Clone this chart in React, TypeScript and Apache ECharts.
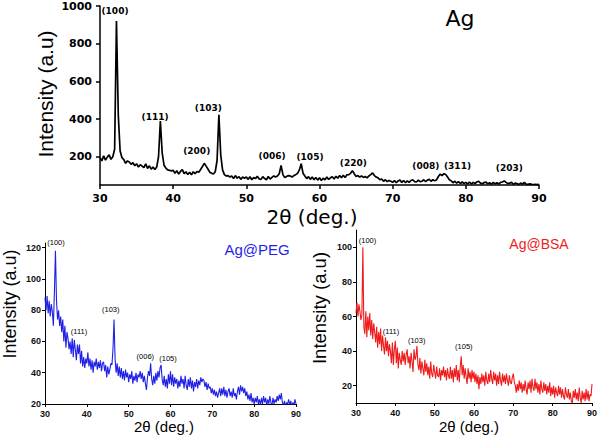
import React, { useEffect, useRef } from "react";
import * as echarts from "echarts";

// Sampling grid of the diffractograms (2θ, degrees)
const TWO_THETA_START = 30;
const TWO_THETA_STEP = 0.25;

// Ag (top panel) intensity, one value per 0.25° from 30° to 90°
const agIntensity = [
  195, 178, 205, 182, 198, 210, 186, 200,
  240, 920, 420, 230, 195, 185, 165, 178,
  172, 160, 168, 152, 163, 145, 158, 150,
  142, 162, 138, 152, 134, 146, 132, 145,
  200, 390, 220, 155, 140, 130, 128, 125,
  128, 112, 126, 108, 122, 132, 110, 120,
  106, 118, 104, 120, 110, 122, 118, 132,
  148, 165, 150, 135, 118, 112, 108, 120,
  180, 423, 210, 130, 105, 98, 100, 92,
  98, 84, 100, 86, 94, 80, 92, 86,
  92, 80, 94, 78, 90, 84, 96, 82,
  80, 94, 84, 78, 95, 82, 90, 98,
  92, 98, 110, 154, 105, 90, 95, 100,
  98, 92, 100, 105, 112, 130, 163, 112,
  98, 84, 94, 80, 92, 78, 90, 76,
  88, 74, 86, 78, 92, 80, 88, 94,
  82, 96, 86, 100, 88, 102, 90, 104,
  105, 112, 126, 110, 95, 100, 92, 98,
  90, 95, 88, 98, 105, 114, 100, 92,
  88, 78, 82, 70, 78, 68, 74, 70,
  64, 74, 62, 72, 76, 64, 74, 62,
  72, 64, 74, 78, 68, 66, 76, 68,
  70, 78, 68, 76, 80, 70, 78, 72,
  78, 95, 108, 100, 110, 106, 92, 78,
  72, 62, 70, 60, 68, 58, 66, 58,
  64, 56, 66, 55, 64, 58, 66, 70,
  60, 56, 63, 65, 56, 62, 54, 64,
  56, 62, 55, 64, 66, 72, 64, 58,
  60, 64, 54, 60, 58, 53, 60, 55,
  64, 55, 53, 56, 53, 52, 54, 52,
  53,
];

// Ag@PEG (bottom-left panel)
const pegIntensity = [
  88, 80, 89, 78, 86, 76, 84, 79,
  70, 92, 118, 86, 74, 80, 70, 76,
  66, 74, 60, 70, 56, 66, 62, 55,
  60, 52, 62, 50, 61, 55, 48, 58,
  52, 58, 46, 54, 44, 50, 43, 49,
  46, 53, 44, 49, 42, 48, 40, 47,
  44, 49, 42, 47, 43, 48, 41, 46,
  47, 41, 45, 37, 44, 39, 42, 46,
  45, 55, 74, 49, 40, 46, 38, 44,
  37, 43, 36, 41, 35, 42, 37, 40,
  34, 39, 36, 41, 33, 38, 35, 40,
  34, 39, 37, 41, 36, 40, 34, 38,
  33, 29, 37, 41, 38, 46, 36, 32,
  38, 33, 40, 35, 41, 37, 43, 45,
  36, 32, 38, 31, 36, 30, 39, 33,
  41, 32, 39, 31, 37, 33, 36, 30,
  35, 31, 38, 33, 36, 30, 38, 32,
  29, 36, 31, 37, 30, 35, 28, 34,
  31, 36, 30, 35, 32, 37, 34, 36,
  35, 31, 34, 29, 33, 30, 31, 27,
  30, 26, 29, 25, 28, 24, 27, 30,
  25, 30, 26, 31, 25, 29, 24, 28,
  30, 25, 28, 24, 30, 25, 27, 23,
  28, 31, 26, 32, 28, 31, 27, 30,
  25, 28, 23, 26, 22, 27, 21, 24,
  20, 24, 21, 25, 20, 23, 19, 24,
  20, 25, 21, 24, 19, 23, 20, 25,
  21, 19, 24, 20, 23, 21, 25, 22,
  26, 23, 27, 21, 19, 22, 18, 21,
  20, 23, 19, 22, 18, 21, 19, 23,
  20,
];

// Ag@BSA (bottom-right panel)
const bsaIntensity = [
  62, 68, 60, 67, 63, 58, 61, 100,
  54, 50, 63, 48, 60, 52, 62, 49,
  58, 47, 56, 51, 45, 54, 42, 51,
  44, 53, 40, 49, 43, 38, 48, 40,
  46, 37, 44, 40, 33, 45, 32, 41,
  46, 33, 42, 30, 39, 35, 32, 40,
  34, 39, 32, 38, 41, 33, 37, 30,
  39, 34, 28, 41, 35, 37, 43, 32,
  29, 36, 27, 34, 30, 26, 35, 28,
  33, 26, 31, 24, 34, 27, 25, 32,
  28, 24, 31, 26, 25, 30, 23, 29,
  26, 31, 25, 29, 23, 30, 26, 24,
  31, 24, 29, 22, 30, 25, 32, 23,
  29, 22, 31, 37, 26, 32, 24, 30,
  25, 21, 30, 24, 28, 22, 29, 24,
  28, 22, 27, 21, 26, 18, 25, 21,
  27, 22, 26, 20, 28, 23, 21, 27,
  22, 29, 24, 21, 28, 23, 27, 20,
  26, 21, 28, 23, 20, 27, 22, 26,
  21, 27, 23, 20, 26, 22, 21, 25,
  27, 22, 20, 16, 21, 17, 23, 18,
  22, 16, 21, 17, 23, 18, 15, 22,
  18, 23, 16, 24, 19, 17, 24, 18,
  22, 16, 21, 15, 23, 18, 16, 22,
  17, 21, 15, 20, 16, 22, 14, 19,
  15, 20, 13, 19, 16, 14, 20, 15,
  19, 13, 18, 14, 12, 19, 15, 13,
  18, 12, 16, 11, 10, 17, 13, 18,
  12, 16, 11, 19, 13, 10, 17, 12,
  16, 11, 18, 12, 17, 11, 15, 14,
  21,
];

// Tick labels
const xTicks = [30, 40, 50, 60, 70, 80, 90];
const agYTicks = [200, 400, 600, 800, 1000];
const pegYTicks = [20, 40, 60, 80, 100, 120];
const bsaYTicks = [20, 40, 60, 80, 100];

// Miller-index annotations: [label, 2θ, intensity]
const agPeakLabels: [string, number, number][] = [
  ["(100)", 32.05, 975],
  ["(111)", 37.52, 412],
  ["(200)", 43.22, 230],
  ["(103)", 44.8, 458],
  ["(006)", 53.51, 202],
  ["(105)", 58.7, 197],
  ["(220)", 64.62, 165],
  ["(008)", 74.53, 152],
  ["(311)", 78.86, 152],
  ["(203)", 85.94, 142],
];
const pegPeakLabels: [string, number, number][] = [
  ["(100)", 32.63, 123.6],
  ["(111)", 38.13, 66.7],
  ["(103)", 45.71, 80.3],
  ["(006)", 53.98, 50.7],
  ["(105)", 59.4, 49.4],
];
const bsaPeakLabels: [string, number, number][] = [
  ["(100)", 32.92, 104.1],
  ["(111)", 38.9, 51.6],
  ["(103)", 45.43, 46.2],
  ["(105)", 57.41, 42.7],
];

const toPairs = (vals: number[]) =>
  vals.map((v, i) => [TWO_THETA_START + i * TWO_THETA_STEP, v]);

export default function App() {
  const ref = useRef<HTMLDivElement>(null);
  useEffect(() => {
    document.body.style.margin = "0";
    const chart = echarts.init(ref.current!, null, { renderer: "svg" });

    const plain = (v: number) => String(v);

    const xAxisBase = (gridIndex: number, font: any, margin: number, tickLen: number, lw: number) => ({
      type: "value",
      gridIndex,
      min: 30,
      max: 90,
      interval: 10,
      splitLine: { show: false },
      axisLine: { show: true, onZero: false, lineStyle: { color: "#000", width: lw } },
      axisTick: { show: true, length: tickLen, lineStyle: { color: "#000", width: lw } },
      axisLabel: { ...font, margin, customValues: xTicks, formatter: plain },
    });
    const yAxisBase = (gridIndex: number, min: number, max: number, ticks: number[], font: any, margin: number, tickLen: number, lw: number) => ({
      type: "value",
      gridIndex,
      min,
      max,
      splitLine: { show: false },
      axisLine: { show: true, onZero: false, lineStyle: { color: "#000", width: lw } },
      axisTick: { show: true, length: tickLen, customValues: ticks, lineStyle: { color: "#000", width: lw } },
      axisLabel: { ...font, margin, customValues: ticks, formatter: plain },
    });

    const topFont = { fontFamily: "DejaVu Sans", fontWeight: "bold", fontSize: 11, lineHeight: 11, color: "#000" };
    const botFont = { fontFamily: "Liberation Sans", fontWeight: "bold", fontSize: 9, lineHeight: 9, color: "#111" };

    const labelSeries = (labels: [string, number, number][], idx: number, font: any) => ({
      type: "scatter",
      xAxisIndex: idx,
      yAxisIndex: idx,
      symbolSize: 0,
      silent: true,
      clip: false,
      itemStyle: { color: "#000", opacity: 0 },
      data: labels.map(([name, x, y]) => ({ name, value: [x, y] })),
      label: {
        show: true,
        position: "inside",
        formatter: (p: any) => p.name,
        textBorderWidth: 0,
        textBorderColor: "transparent",
        opacity: 1,
        ...font,
      },
    });

    const txt = (text: string, x: number, y: number, size: number, fill: string, family: string, rotation = 0) => ({
      type: "text",
      x,
      y,
      rotation,
      style: { text, fontFamily: family, fontSize: size, lineHeight: size, fill, align: "center", verticalAlign: "middle" },
    });

    chart.setOption({
      animation: false,
      backgroundColor: "#fff",
      grid: [
        { left: 100, top: 6, width: 439, height: 179, outerBoundsMode: "none" },
        { left: 45, top: 243, width: 251, height: 161, outerBoundsMode: "none" },
        { left: 356, top: 230, width: 236, height: 173, outerBoundsMode: "none" },
      ],
      xAxis: [
        xAxisBase(0, topFont, 8, 4, 1.5),
        xAxisBase(1, botFont, 5, 3, 1),
        xAxisBase(2, botFont, 5, 3, 1),
      ],
      yAxis: [
        yAxisBase(0, 50, 1000, agYTicks, topFont, 8, 4, 1.5),
        yAxisBase(1, 20, 123, pegYTicks, botFont, 4, 3, 1),
        yAxisBase(2, 10, 110, bsaYTicks, botFont, 4, 3, 1),
      ],
      series: [
        {
          type: "line",
          name: "Ag",
          xAxisIndex: 0,
          yAxisIndex: 0,
          symbol: "none",
          data: toPairs(agIntensity),
          lineStyle: { color: "#000", width: 1.7 },
        },
        {
          type: "line",
          name: "Ag@PEG",
          xAxisIndex: 1,
          yAxisIndex: 1,
          symbol: "none",
          data: toPairs(pegIntensity),
          lineStyle: { color: "#1f1fe6", width: 1.1 },
        },
        {
          type: "line",
          name: "Ag@BSA",
          xAxisIndex: 2,
          yAxisIndex: 2,
          symbol: "none",
          data: toPairs(bsaIntensity),
          lineStyle: { color: "#ee1c1c", width: 1.1 },
        },
        labelSeries(agPeakLabels, 0, { fontFamily: "DejaVu Sans", fontWeight: "bold", fontSize: 9, color: "#000" }),
        labelSeries(pegPeakLabels, 1, { fontFamily: "Liberation Sans", fontSize: 7.5, color: "#000" }),
        labelSeries(bsaPeakLabels, 2, { fontFamily: "Liberation Sans", fontSize: 7.5, color: "#000" }),
      ],
      graphic: [
        txt("Ag", 460, 18, 22, "#000", "DejaVu Sans"),
        txt("2θ (deg.)", 312, 217, 20, "#000", "DejaVu Sans"),
        txt("Intensity (a.u)", 45, 94, 21, "#000", "Liberation Sans", Math.PI / 2),
        txt("Ag@PEG", 257, 249, 15, "#1f1fe6", "Liberation Sans"),
        txt("2θ (deg.)", 164, 426, 15, "#000", "Liberation Sans"),
        txt("Intensity (a.u)", 10, 304, 18, "#000", "Liberation Sans", Math.PI / 2),
        txt("Ag@BSA", 539, 244, 14, "#ee1c1c", "Liberation Sans"),
        txt("2θ (deg.)", 469, 426, 15, "#000", "Liberation Sans"),
        txt("Intensity (a.u)", 319, 308, 18.5, "#000", "Liberation Sans", Math.PI / 2),
      ],
    });
    return () => chart.dispose();
  }, []);
  return <div ref={ref} style={{ width: 600, height: 435 }} />;
}
